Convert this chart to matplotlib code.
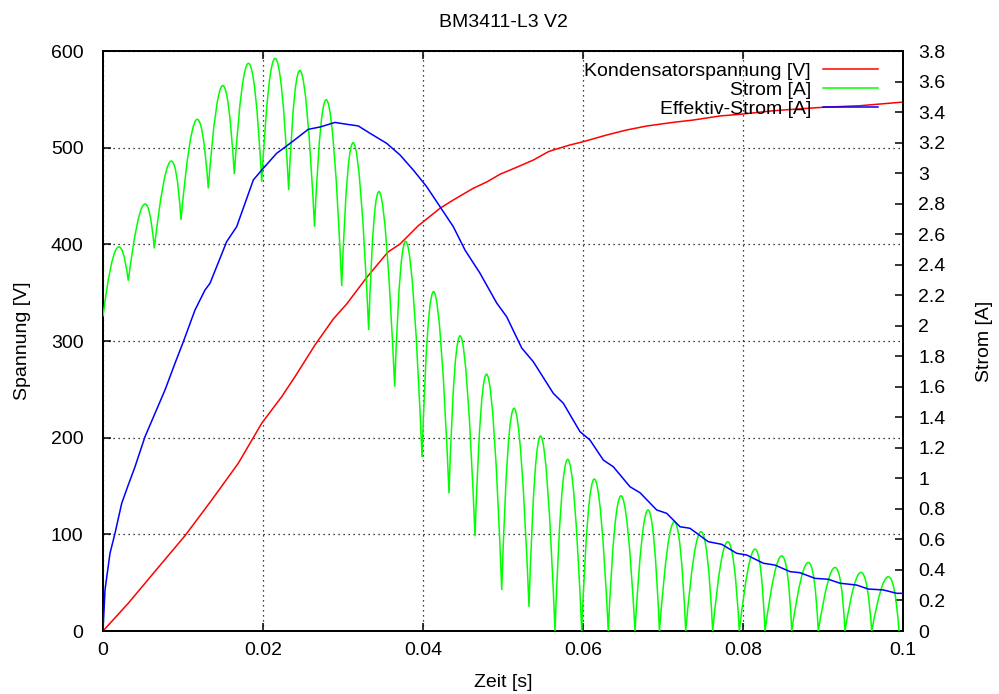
import numpy as np
import matplotlib
matplotlib.use("Agg")
import matplotlib.pyplot as plt
from matplotlib.path import Path
from matplotlib.patches import PathPatch
from matplotlib.lines import Line2D
from matplotlib.ticker import FuncFormatter

plt.rcParams['font.family'] = ['Liberation Sans', 'DejaVu Sans']

# ---------------- data ----------------
# Kondensatorspannung [V] (left axis)
volt_t = [0.0, 0.00316, 0.00734, 0.01025, 0.01359, 0.01691, 0.01984, 0.02234, 0.0240,
          0.0265, 0.02879, 0.03046, 0.03296, 0.035625, 0.037125, 0.039375, 0.042125,
          0.04379, 0.04629, 0.04796, 0.049625, 0.05171, 0.05379, 0.05566, 0.05629,
          0.058375, 0.06004, 0.06296, 0.06546, 0.06796, 0.07129, 0.07379, 0.077125,
          0.079625, 0.08379, 0.08629, 0.09004, 0.094625, 0.099625, 0.1]
volt_v = [0.0, 28.7, 70.0, 98.6, 135.5, 173.5, 214.9, 242.4, 263.1,
          295.9, 322.8, 338.3, 365.7, 392.1, 400.3, 419.0, 437.3,
          445.9, 458.0, 464.5, 472.5, 479.7, 487.2, 495.8, 497.6,
          502.8, 506.2, 513.1, 518.3, 522.4, 526.2, 528.6, 532.8,
          534.5, 538.2, 539.7, 541.8, 543.4, 546.9, 547.0]

# Strom [A] (right axis): start value, peaks and troughs of the rectified current
strom_start = (0.0, 2.06)
peak_t = [0.00171, 0.00504, 0.008375, 0.011625, 0.01491, 0.01821, 0.02154, 0.02471,
          0.02806, 0.031375, 0.034625, 0.0380, 0.0414, 0.04473, 0.04806, 0.05141,
          0.05475, 0.05809, 0.06141, 0.06475, 0.06813, 0.07141, 0.07475, 0.07809,
          0.0815, 0.08484, 0.08816, 0.0915, 0.09475, 0.09816]
peak_i = [2.507, 2.791, 3.075, 3.348, 3.573, 3.719, 3.752, 3.669,
          3.472, 3.195, 2.872, 2.542, 2.221, 1.930, 1.677, 1.459,
          1.276, 1.125, 0.996, 0.886, 0.793, 0.716, 0.651, 0.585,
          0.537, 0.493, 0.450, 0.417, 0.385, 0.356]
trough_t = [0.00316, 0.00641, 0.00975, 0.01316, 0.01641, 0.01984, 0.02321, 0.02644,
            0.02984, 0.03321, 0.03646, 0.03988, 0.04325, 0.0465, 0.04984, 0.05325,
            0.0565, 0.05984, 0.06316, 0.0665, 0.06956, 0.07284, 0.07621, 0.07954,
            0.08275, 0.08609, 0.08941, 0.09275, 0.09609, 0.0995]
trough_i = [2.295, 2.507, 2.693, 2.900, 2.994, 2.944, 2.889, 2.649,
            2.260, 1.972, 1.601, 1.138, 0.902, 0.622, 0.269, 0.159,
            0.0, 0.0, 0.0, 0.0, 0.0, 0.0, 0.0, 0.0,
            0.0, 0.0, 0.0, 0.0, 0.0, 0.0]

# Effektiv-Strom [A] (right axis)
eff_t = [0.0, 0.00025, 0.000875, 0.0015, 0.00234, 0.00316, 0.0040, 0.00525, 0.0065,
         0.00775, 0.0090, 0.01004, 0.0115, 0.01275, 0.013375, 0.01546, 0.01671,
         0.01879, 0.01984, 0.02171, 0.02296, 0.02421, 0.02566, 0.027125, 0.0290,
         0.03046, 0.03191, 0.033375, 0.03546, 0.037125, 0.03879, 0.04046, 0.042125,
         0.04379, 0.04525, 0.047125, 0.04921, 0.05046, 0.05234, 0.05379, 0.05629,
         0.05754, 0.059625, 0.060875, 0.06254, 0.06379, 0.065875, 0.067125, 0.06921,
         0.07046, 0.072125, 0.073375, 0.07566, 0.07734, 0.07921, 0.08046, 0.08254,
         0.0840, 0.085875, 0.087125, 0.0890, 0.09066, 0.092125, 0.09421, 0.09566,
         0.09754, 0.09921, 0.1]
eff_i = [0.0, 0.269, 0.509, 0.640, 0.837, 0.957, 1.076, 1.273, 1.426,
         1.579, 1.754, 1.895, 2.103, 2.234, 2.278, 2.551, 2.649,
         2.955, 3.020, 3.130, 3.178, 3.228, 3.287, 3.302, 3.332,
         3.320, 3.309, 3.261, 3.195, 3.119, 3.020, 2.911, 2.780,
         2.649, 2.496, 2.344, 2.149, 2.059, 1.854, 1.764, 1.557,
         1.492, 1.306, 1.251, 1.120, 1.076, 0.945, 0.906, 0.793,
         0.771, 0.683, 0.673, 0.585, 0.568, 0.509, 0.498, 0.444,
         0.432, 0.389, 0.382, 0.345, 0.339, 0.313, 0.301, 0.275,
         0.269, 0.247, 0.247]

x_ticks = [0, 0.02, 0.04, 0.06, 0.08, 0.1]
left_ticks = [0, 100, 200, 300, 400, 500, 600]
right_ticks = [0, 0.2, 0.4, 0.6, 0.8, 1, 1.2, 1.4, 1.6, 1.8, 2, 2.2, 2.4, 2.6,
               2.8, 3, 3.2, 3.4, 3.6, 3.8]

labels = ["Kondensatorspannung [V]", "Strom [A]", "Effektiv-Strom [A]"]
colors = ["#ff0000", "#00ff00", "#0000ff"]

# ---------------- figure ----------------
FS = 14
fig = plt.figure(figsize=(9.99, 6.94), dpi=100)
ax = fig.add_axes([103 / 999, 1 - 631 / 694, 800 / 999, 580 / 694])
ax2 = ax.twinx()

ax.set_xlim(0, 0.1)
ax.set_ylim(0, 600)
ax2.set_ylim(0, 3.8)

# red
ax.plot(volt_t, volt_v, color=colors[0], lw=1.1, zorder=3)

# green: arcs between troughs, each passing through its peak
verts = [strom_start]
codes = [Path.MOVETO]
prev = np.array(strom_start)
for pt, pi, tt, ti in zip(peak_t, peak_i, trough_t, trough_i):
    P = np.array([pt, pi])
    B = np.array([tt, ti])
    C = 2 * P - (prev + B) / 2
    verts += [tuple(C), tuple(B)]
    codes += [Path.CURVE3, Path.CURVE3]
    prev = B
green_patch = PathPatch(Path(verts, codes), facecolor='none', edgecolor=colors[1],
                        lw=1.1, transform=ax2.transData, zorder=3)
ax2.add_patch(green_patch)

# blue
ax2.plot(eff_t, eff_i, color=colors[2], lw=1.1, zorder=4)

# grid
ax.grid(True, color='black', linestyle=(0, (1, 3)), linewidth=0.9)
ax.set_axisbelow(True)

# ticks
fmt = FuncFormatter(lambda v, p: "%g" % round(v, 6))
ax.set_xticks(x_ticks)
ax.set_yticks(left_ticks)
ax2.set_yticks(right_ticks)
ax.xaxis.set_major_formatter(fmt)
ax.yaxis.set_major_formatter(fmt)
ax2.yaxis.set_major_formatter(fmt)
ax.tick_params(axis='x', direction='in', length=6, width=1.1, top=True, bottom=True,
               labelsize=FS, pad=8)
ax.tick_params(axis='y', direction='in', length=6, width=1.1, left=True, right=False,
               labelsize=FS, pad=14)
ax2.tick_params(axis='y', direction='in', length=6, width=1.1, right=True, left=False,
                labelsize=FS, pad=11)
for a in (ax, ax2):
    for s in a.spines.values():
        s.set_linewidth(1.3)

ax.set_xlabel("Zeit [s]", fontsize=FS, labelpad=11)
ax.set_ylabel("Spannung [V]", fontsize=FS, labelpad=14)
ax2.set_ylabel("Strom [A]", fontsize=FS, labelpad=22)
ax.set_title("BM3411-L3 V2", fontsize=FS, pad=17)

handles = [Line2D([], [], color=c, lw=1.1) for c in colors]
leg = ax2.legend(handles, labels, loc='upper right', bbox_to_anchor=(0.969, 0.98),
                 frameon=False, markerfirst=False, fontsize=FS, handlelength=2.85,
                 handletextpad=0.6, labelspacing=0.07, borderpad=0, borderaxespad=0)

fig.savefig("out.png", dpi=100)
